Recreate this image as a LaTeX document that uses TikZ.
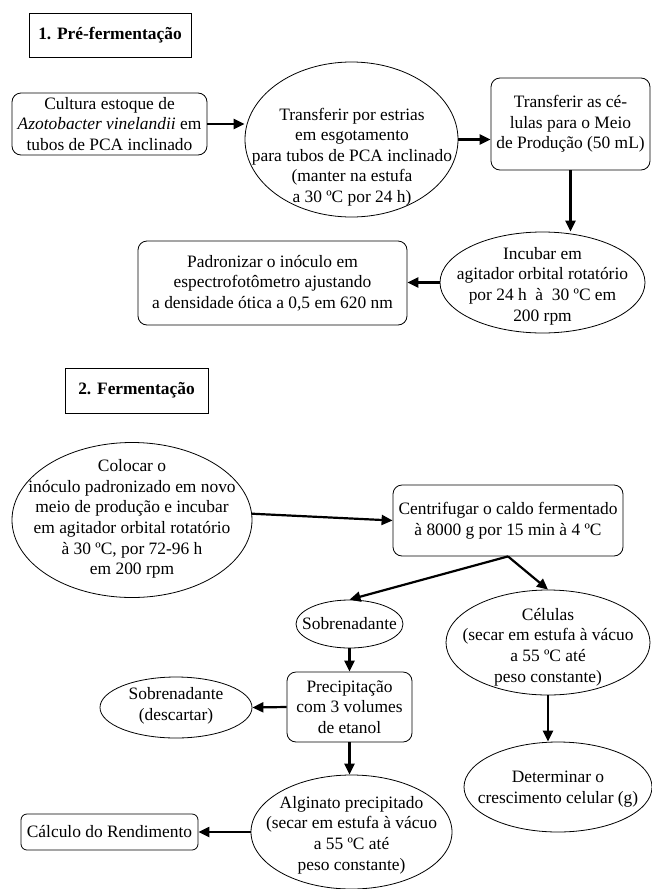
\documentclass[tikz,border=0pt]{standalone}
\usepackage{fontspec}
\setmainfont{Liberation Serif}
\usetikzlibrary{shapes.geometric,arrows.meta}
\begin{document}
\begin{tikzpicture}[x=1pt,y=-1pt,
  every node/.style={font=\fontsize{17.4}{20.6}\selectfont},
  txt/.style={align=center, inner sep=0pt},
  box/.style={draw, line width=0.8pt, rounded corners=9pt, inner sep=0pt, align=center},
  hbox/.style={draw, line width=0.8pt, inner sep=0pt, font=\fontsize{17.4}{20.6}\selectfont\bfseries},
  ell/.style={draw, ellipse, line width=0.8pt, inner sep=0pt},
  arr/.style={line width=2.2pt, -{Triangle[length=11pt,width=10pt]}}
]
\useasboundingbox (0,0) rectangle (652,889);

% 1. Pre-fermentacao
\node[hbox, minimum width=162pt, minimum height=44pt] (h1) at (110,35) {1. Pré-fermentação};
\node[box, minimum width=195pt, minimum height=62pt] (cult) at (109.5,124) {Cultura estoque de\\\textit{Azotobacter vinelandii} em\\tubos de PCA inclinado};
\node[ell, minimum width=213pt, minimum height=155pt] (e1) at (351.5,139.5) {};
\node[txt] at (352,157) {Transferir por estrias\\em esgotamento\\para tubos de PCA inclinado\\(manter na estufa\\a 30 ºC por 24 h)};
\node[box, minimum width=159pt, minimum height=92pt] (cel1) at (570.5,124) {Transferir as cé-\\lulas para o Meio\\de Produção (50 mL)};
\node[ell, minimum width=205pt, minimum height=101pt] (inc) at (542.5,282.5) {};
\node[txt] at (542.5,286) {Incubar em\\agitador orbital rotatório\\por 24 h\ \ à\ \ 30 ºC em\\200 rpm};
\node[box, minimum width=269pt, minimum height=84pt] (pad) at (272.5,283) {Padronizar o inóculo em\\espectrofotômetro ajustando\\a densidade ótica a 0,5 em 620 nm};

% 2. Fermentacao
\node[hbox, minimum width=143pt, minimum height=45pt] (h2) at (136.5,390.5) {2. Fermentação};
\node[ell, minimum width=240pt, minimum height=155pt] (col) at (132,520) {};
\node[txt] at (132,519) {Colocar o\\inóculo padronizado em novo\\meio de produção e incubar\\em agitador orbital rotatório\\à 30 ºC, por 72-96 h\\em 200 rpm};
\node[box, minimum width=230pt, minimum height=71pt] (cen) at (508,520.5) {Centrifugar o caldo fermentado\\à 8000 g por 15 min à 4 ºC};
\node[ell, minimum width=107pt, minimum height=48pt] (sob) at (349.5,624) {};
\node[txt] at (sob) {Sobrenadante};
\node[ell, minimum width=204pt, minimum height=105pt] (cells) at (548,642.5) {};
\node[txt] at (548,647) {Células\\(secar em estufa à vácuo\\a 55 ºC até\\peso constante)};
\node[box, minimum width=125pt, minimum height=70pt] (prec) at (349.5,707) {Precipitação\\com 3 volumes\\de etanol};
\node[ell, minimum width=152pt, minimum height=61pt] (desc) at (176,707.5) {};
\node[txt] at (176,706) {Sobrenadante\\(descartar)};
\node[ell, minimum width=201pt, minimum height=114pt] (alg) at (351.5,832) {};
\node[txt] at (351.5,835) {Alginato precipitado\\(secar em estufa à vácuo\\a 55 ºC até\\peso constante)};
\node[box, minimum width=177pt, minimum height=36pt, rounded corners=6pt] (calc) at (109.5,832) {Cálculo do Rendimento};
\node[ell, minimum width=188pt, minimum height=90pt] (det) at (558,787) {};
\node[txt] at (558,789) {Determinar o\\crescimento celular (g)};

% connectors
\draw[arr] (cult.east) -- (e1.west |- cult.east);
\draw[arr] (e1.east) -- (e1.east -| cel1.west);
\draw[arr] (cel1.south) -- (cel1.south |- inc.north);
\draw[arr] (inc.west) -- (inc.west -| pad.east);
\draw[arr] (col.3) -- (cen.west);
\draw[arr] (cen.south) -- (sob.north);
\draw[arr] (cen.south) -- (cells.north);
\draw[arr] (sob.south) -- (prec.north);
\draw[arr] (prec.west) -- (desc.east);
\draw[arr] (prec.south) -- (prec.south |- alg.north);
\draw[arr] (alg.west) -- (calc.east);
\draw[arr] (cells.south) -- (cells.south |- det.north);
\end{tikzpicture}
\end{document}
